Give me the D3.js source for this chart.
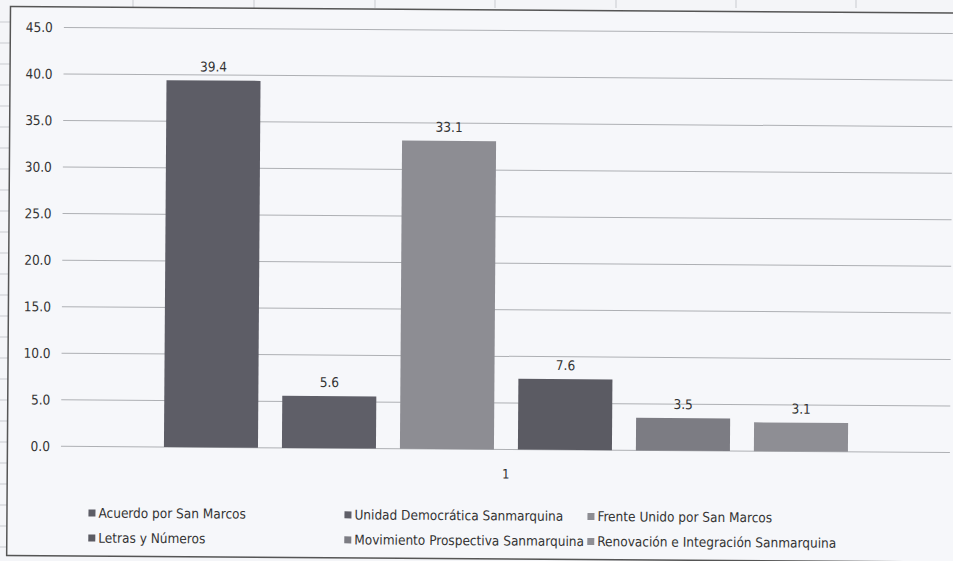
<!DOCTYPE html>
<html>
<head>
<meta charset="utf-8">
<script src="https://cdn.jsdelivr.net/npm/d3@7"></script>
<style>
  body { margin: 0; background: #f4f5f8; }
  text { font-family: "DejaVu Sans Condensed", "Liberation Sans", sans-serif; }
</style>
</head>
<body>
<div id="box"></div>
<script>
  var width = 953;
  var height = 561;

  // data
  var categories = ["1"];
  var series = [
    "Acuerdo por San Marcos",
    "Unidad Democrática Sanmarquina",
    "Frente Unido por San Marcos",
    "Letras y Números",
    "Movimiento Prospectiva Sanmarquina",
    "Renovación e Integración Sanmarquina"
  ];
  var values = [39.4, 5.6, 33.1, 7.6, 3.5, 3.1];
  var yTicks = [0, 5, 10, 15, 20, 25, 30, 35, 40, 45];
  var colors = ["#5d5d66", "#5f5f68", "#8d8d93", "#5b5b63", "#7c7c83", "#8e8e94"];

  var svg = d3.select("#box").append("svg")
    .attr("width", width)
    .attr("height", height);

  // spreadsheet cells showing round the chart
  var bg = svg.append("g").attr("stroke", "#c9cbd0").attr("stroke-width", 1);
  [133, 254, 375, 495, 616, 736, 856].forEach(function(x) {
    bg.append("line").attr("x1", x).attr("y1", 0).attr("x2", x).attr("y2", 8);
  });
  [22, 43, 64, 85, 106, 127, 148, 169, 190, 211, 232, 253, 274, 295, 316, 337, 358, 379, 400, 421, 442, 463, 484, 505, 526, 547].forEach(function(y) {
    bg.append("line").attr("x1", 0).attr("y1", y).attr("x2", 10).attr("y2", y);
  });

  // chart, slightly tilted like the scan
  var g = svg.append("g")
    .attr("transform", "rotate(0.4, 10, 7)");

  g.append("rect")
    .attr("x", 10.5).attr("y", 6.5)
    .attr("width", 960).attr("height", 549)
    .attr("fill", "#f6f7fa")
    .attr("stroke", "#555").attr("stroke-width", 1.5);

  var y = d3.scaleLinear().domain([0, 45]).range([446, 27]);
  var x = d3.scaleBand().domain(series).range([167, 851]).paddingInner(0.203);

  // gridlines
  g.append("g").selectAll("line")
    .data(yTicks)
    .enter().append("line")
    .attr("x1", 64).attr("x2", 953)
    .attr("y1", function(d) { return y(d); })
    .attr("y2", function(d) { return y(d); })
    .attr("stroke", "#aeb0b4").attr("stroke-width", 1);

  // y axis labels
  var yAxis = d3.axisLeft(y).tickValues(yTicks).tickSize(0).tickPadding(0)
    .tickFormat(d3.format(".1f"));
  g.append("g")
    .attr("transform", "translate(53,0)")
    .call(yAxis)
    .call(function(a) { a.select(".domain").remove(); })
    .selectAll("text")
    .attr("font-size", 13.5)
    .attr("fill", "#333")
    .style("font-family", "'DejaVu Sans Condensed', sans-serif");

  // bars
  g.append("g").selectAll("rect")
    .data(values)
    .enter().append("rect")
    .attr("x", function(d, i) { return x(series[i]); })
    .attr("y", function(d) { return y(d); })
    .attr("width", x.bandwidth())
    .attr("height", function(d) { return y(0) - y(d); })
    .attr("fill", function(d, i) { return colors[i]; });

  // value labels
  g.append("g").selectAll("text")
    .data(values)
    .enter().append("text")
    .attr("x", function(d, i) { return x(series[i]) + x.bandwidth() / 2; })
    .attr("y", function(d) { return y(d) - 9; })
    .attr("text-anchor", "middle")
    .attr("font-size", 13.5)
    .attr("fill", "#333")
    .text(function(d) { return d3.format(".1f")(d); });

  // category label
  g.append("text")
    .attr("x", (x.range()[0] + x.range()[1]) / 2)
    .attr("y", 475)
    .attr("text-anchor", "middle")
    .attr("font-size", 13)
    .attr("fill", "#333")
    .text(categories[0]);

  // legend, 3 columns x 2 rows
  var legCols = [92, 348, 591];
  var legRows = [513, 538];
  var leg = g.append("g").selectAll("g")
    .data(series)
    .enter().append("g")
    .attr("transform", function(d, i) {
      return "translate(" + legCols[i % 3] + "," + legRows[Math.floor(i / 3)] + ")";
    });
  leg.append("rect")
    .attr("x", 0).attr("y", -4)
    .attr("width", 7).attr("height", 7)
    .attr("fill", function(d, i) { return colors[i]; });
  leg.append("text")
    .attr("x", 10).attr("y", 4)
    .attr("font-size", 13.5)
    .attr("fill", "#333")
    .text(function(d) { return d; });
</script>
</body>
</html>
